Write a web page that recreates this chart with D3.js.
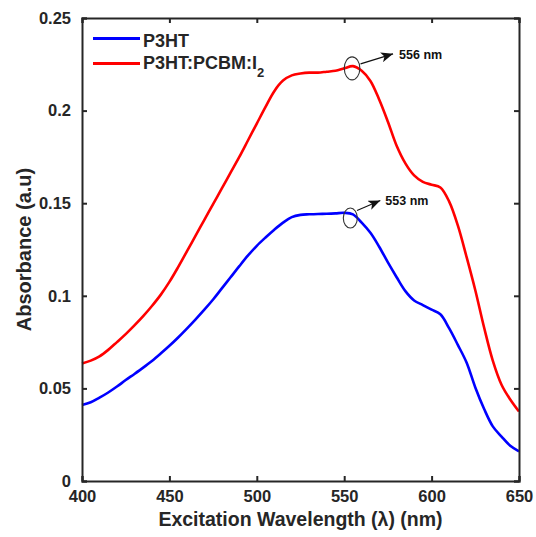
<!DOCTYPE html>
<html>
<head>
<meta charset="utf-8">
<script src="https://cdn.jsdelivr.net/npm/d3@7/dist/d3.min.js"></script>
<style>
  html, body { margin: 0; padding: 0; background: #fff; }
  svg { display: block; font-family: "Liberation Sans", Arial, Helvetica, sans-serif; }
</style>
</head>
<body>
<svg id="chart" width="536" height="537"></svg>
<script>
// ---- data ----
const wavelength = [400,405,410,415,420,425,430,435,440,445,450,455,460,465,470,475,480,485,490,495,
  500,505,510,515,520,525,530,535,540,545,550,555,560,565,570,575,580,585,590,595,
  600,605,610,615,620,625,630,635,640,645,650];
const p3ht = [0.0410,0.0425,0.0450,0.0478,0.0510,0.0545,0.0578,0.0612,0.0648,0.0688,0.0730,0.0775,0.0823,0.0873,0.0925,0.0980,0.1040,0.1100,0.1160,0.1218,
  0.1270,0.1315,0.1357,0.1395,0.1425,0.1437,0.1440,0.1442,0.1443,0.1445,0.1448,0.1440,0.1395,0.1340,0.1265,0.1180,0.1100,0.1025,0.0975,0.0950,
  0.0925,0.0900,0.0825,0.0735,0.0640,0.0505,0.0390,0.0295,0.0240,0.0190,0.0160];
const p3htPcbmI2 = [0.0635,0.0650,0.0673,0.0708,0.0750,0.0793,0.0840,0.0890,0.0945,0.1005,0.1075,0.1155,0.1240,0.1325,0.1410,0.1495,0.1580,0.1665,0.1750,0.1840,
  0.1930,0.2020,0.2105,0.2162,0.2190,0.2200,0.2205,0.2205,0.2210,0.2215,0.2228,0.2240,0.2215,0.2160,0.2060,0.1940,0.1810,0.1715,0.1650,0.1615,
  0.1600,0.1585,0.1510,0.1380,0.1210,0.1030,0.0830,0.0650,0.0520,0.0440,0.0375];
const seriesNames = ["P3HT", "P3HT:PCBM:I"];
const xTicks = [400,450,500,550,600,650];
const yTicks = [0,0.05,0.1,0.15,0.2,0.25];
const yTickLabels = ["0","0.05","0.1","0.15","0.2","0.25"];
const peakLabels = ["556 nm", "553 nm"];
const peakX = [554.5, 553.5];
const peakY = [0.2228, 0.1420];

// ---- layout / style ----
const colors = ["#0000ff", "#ff0000"];
const ink = "#262626";
const box = {left: 82, right: 519, top: 18, bottom: 481};
const svg = d3.select("#chart");

const x = d3.scaleLinear().domain([400, 650]).range([box.left, box.right]);
const y = d3.scaleLinear().domain([0, 0.25]).range([box.bottom, box.top]);

// curves
const seriesData = [p3ht, p3htPcbmI2];
const line = d3.line().x(d => x(d[0])).y(d => y(d[1])).curve(d3.curveCatmullRom.alpha(0.5));
seriesData.forEach((vals, i) => {
  svg.append("path")
    .datum(wavelength.map((w, k) => [w, vals[k]]))
    .attr("d", line)
    .attr("fill", "none")
    .attr("stroke", colors[i])
    .attr("stroke-width", 2.6)
    .attr("stroke-linejoin", "round");
});

// axes (ticks inward on all four sides)
const tickLen = 5;
const axB = d3.axisBottom(x).tickValues(xTicks).tickSize(-tickLen).tickPadding(tickLen + 4).tickFormat(d => String(d));
const axT = d3.axisTop(x).tickValues(xTicks).tickSize(-tickLen).tickFormat("");
const axL = d3.axisLeft(y).tickValues(yTicks).tickSize(-tickLen).tickPadding(tickLen + 6)
  .tickFormat((d, i) => yTickLabels[i]);
const axR = d3.axisRight(y).tickValues(yTicks).tickSize(-tickLen).tickFormat("");

function styleAxis(g) {
  g.select(".domain").attr("stroke", ink).attr("stroke-width", 2);
  g.selectAll(".tick line").attr("stroke", ink).attr("stroke-width", 2);
  g.selectAll(".tick text").attr("fill", ink).attr("font-size", 16.5).attr("font-weight", "bold")
    .attr("font-family", "'Liberation Sans', Arial, sans-serif");
}
svg.append("g").attr("transform", `translate(0,${box.bottom})`).call(axB).call(styleAxis);
svg.append("g").attr("transform", `translate(0,${box.top})`).call(axT).call(styleAxis);
svg.append("g").attr("transform", `translate(${box.left},0)`).call(axL).call(styleAxis);
svg.append("g").attr("transform", `translate(${box.right},0)`).call(axR).call(styleAxis);

// axis titles
svg.append("text")
  .attr("x", (box.left + box.right) / 2).attr("y", 526)
  .attr("text-anchor", "middle").attr("font-size", 19.5).attr("font-weight", "bold").attr("fill", ink)
  .text("Excitation Wavelength (λ) (nm)");
svg.append("text")
  .attr("transform", `translate(31,${(box.top + box.bottom) / 2}) rotate(-90)`)
  .attr("text-anchor", "middle").attr("font-size", 20).attr("font-weight", "bold").attr("fill", ink)
  .text("Absorbance (a.u)");

// legend
const legRows = [38.5, 63.5];
seriesNames.forEach((name, i) => {
  svg.append("line")
    .attr("x1", 93).attr("x2", 140).attr("y1", legRows[i]).attr("y2", legRows[i])
    .attr("stroke", colors[i]).attr("stroke-width", 2.8);
  const t = svg.append("text")
    .attr("x", 143).attr("y", legRows[i] + (i === 0 ? 8.2 : 5))
    .attr("font-size", 18).attr("font-weight", "bold").attr("fill", ink)
    .text(name);
  if (i === 1) {
    t.append("tspan").attr("font-size", 13).attr("dy", 8).text("2");
  }
});

// peak annotations
svg.append("defs").append("marker")
  .attr("id", "ah").attr("viewBox", "0 0 12 10").attr("refX", 12).attr("refY", 5)
  .attr("markerWidth", 12).attr("markerHeight", 10).attr("markerUnits", "userSpaceOnUse")
  .attr("orient", "auto")
  .append("path").attr("d", "M0,0 L12,5 L0,10 L3,5 Z").attr("fill", "#111");

const annoLayout = [
  {rx: 7.8, ry: 11.5, a0: [8.5, -4.5], a1: [41, -14.5], t: [47, -9.5]},
  {rx: 7, ry: 10, a0: [6.7, -7.5], a1: [30, -17.5], t: [35, -13]}
];
peakLabels.forEach((lab, i) => {
  const cx = x(peakX[i]), cy = y(peakY[i]);
  const L = annoLayout[i];
  svg.append("ellipse").attr("cx", cx).attr("cy", cy).attr("rx", L.rx).attr("ry", L.ry)
    .attr("fill", "none").attr("stroke", "#333").attr("stroke-width", 1.1);
  svg.append("line")
    .attr("x1", cx + L.a0[0]).attr("y1", cy + L.a0[1])
    .attr("x2", cx + L.a1[0]).attr("y2", cy + L.a1[1])
    .attr("stroke", "#111").attr("stroke-width", 1.1).attr("marker-end", "url(#ah)");
  svg.append("text").attr("x", cx + L.t[0]).attr("y", cy + L.t[1])
    .attr("font-size", 12.5).attr("font-weight", "bold").attr("fill", "#111").text(lab);
});
</script>
</body>
</html>
